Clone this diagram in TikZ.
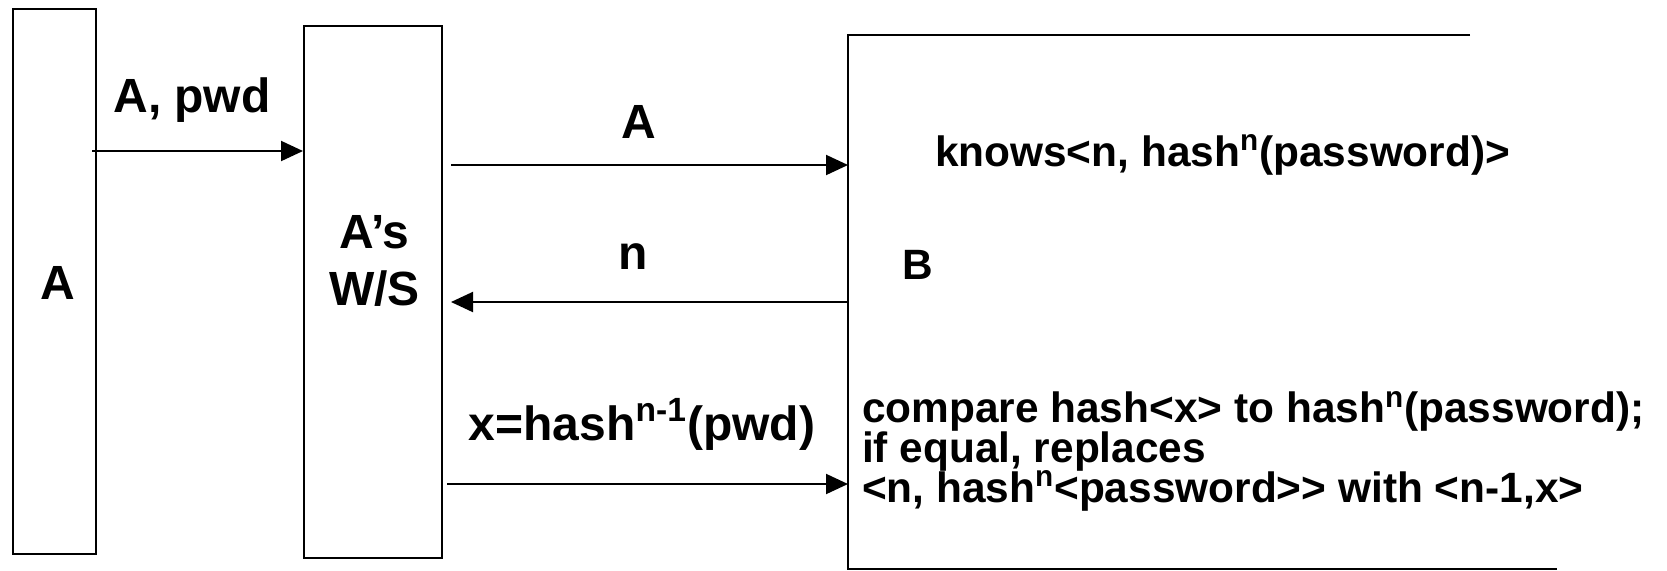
\documentclass[tikz,border=0pt]{standalone}
\usepackage{fontspec}
\setmainfont{Liberation Sans}
\usetikzlibrary{arrows.meta}
\newcommand{\sps}[1]{\textsuperscript{#1}}
\newcommand{\btfont}{\fontsize{21.2}{19.9}\selectfont\bfseries\lineskiplimit=-20pt\relax}
\begin{document}
\begin{tikzpicture}[x=0.5pt,y=-0.5pt, line width=1pt,
  box/.style={draw, inner sep=0pt},
  lbl/.style={font=\fontsize{24}{28.5}\selectfont\bfseries, inner sep=0pt, anchor=base},
  btxt/.style={font=\btfont, inner sep=0pt, anchor=base west, align=left},
  msg/.style={-{Triangle[length=11pt,width=10pt]}}]
\useasboundingbox (0,0) rectangle (1667,570);
% boxes
\node[box, minimum width=41.5pt, minimum height=272.75pt] (A) at (54.5,281.25) {};
\node[box, minimum width=69pt, minimum height=266.25pt] (WS) at (373,291.75) {};
\coordinate (Btr) at (1470,35);
\coordinate (Btl) at (848,35);
\coordinate (Bbl) at (848,569);
\coordinate (Bbr) at (1557,569);
\draw (Btr) -- (Btl) -- (Bbl) -- (Bbr);
% box texts
\node[lbl] (Alab) at (57.5,299) {A};
\node[lbl, align=center] (WSlab) at (374.5,305) {A’s\\W/S};
\node[btxt] (Blab) at (901,279) {B};
\node[btxt] (knows) at (934,166) {knows<n, hash\sps{n}(password)>};
\node[btxt] (cmp) at (861,502) {compare hash<x> to hash\sps{n}(password);\\
if equal, replaces\\
<n, hash\sps{n}<password>{}> with <n-1,x>};
% messages
\draw[msg] ([xshift=-2.5pt]A.east |- 0,151) -- (WS.west |- 0,151);
\draw[msg] ([xshift=4pt]WS.east |- 0,165) -- (Btl |- 0,165);
\draw[msg] (Btl |- 0,302) -- ([xshift=4pt]WS.east |- 0,302);
\draw[msg] ([xshift=2pt]WS.east |- 0,484) -- (Btl |- 0,484);
% message labels
\node[lbl] (m1) at (192,112) {A, pwd};
\node[lbl] (m2) at (639,138) {A};
\node[lbl] (m3) at (633,269) {n};
\node[lbl] (m4) at (642,440) {x=hash\sps{n-1}(pwd)};
\end{tikzpicture}
\end{document}
